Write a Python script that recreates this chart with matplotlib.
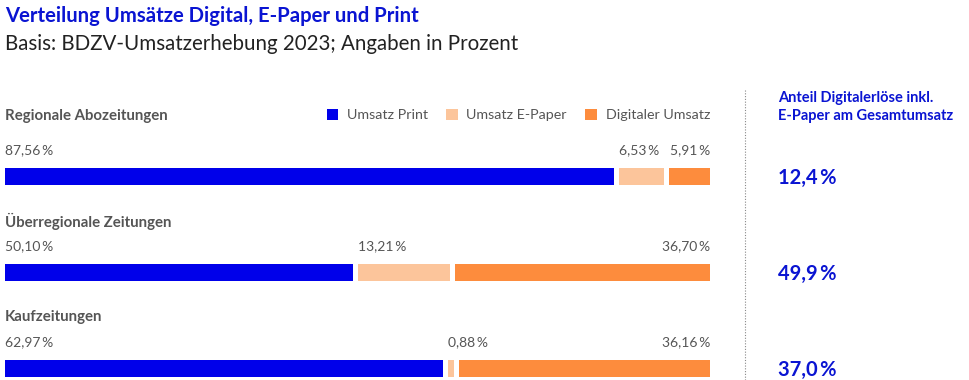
import matplotlib.pyplot as plt
from matplotlib.patches import Patch

# --------------------------------------------------------
# DATA
# --------------------------------------------------------
categories = ["Regionale Abozeitungen", "Überregionale Zeitungen", "Kaufzeitungen"]
print_share = [87.56, 50.10, 62.97]
epaper_share = [6.53, 13.21, 0.88]
digital_share = [5.91, 36.70, 36.16]
digital_total = [12.4, 49.9, 37.0]
series_names = ["Umsatz Print", "Umsatz E-Paper", "Digitaler Umsatz"]

# --------------------------------------------------------
# STYLE
# --------------------------------------------------------
BLUE = "#0000ea"
TITLE_BLUE = "#0a14d2"
PEACH = "#fcc59b"
ORANGE = "#fd8c3d"
GREY = "#555555"
FONT = "Lato"

plt.rcParams["font.family"] = [FONT, "DejaVu Sans"]


def fmt(v, nd=2):
    return f"{v:.{nd}f}".replace(".", ",") + "\u2009%"


W, H = 970, 380
fig = plt.figure(figsize=(W / 100, H / 100), dpi=100)

# axes for the bars: x 0..100 over pixel 5..710, y in pixel rows (top = 0)
ax = fig.add_axes([5 / W, 0, 705 / W, 1])
ax.set_xlim(0, 100)
ax.set_ylim(H, 0)
ax.axis("off")

px = 100 / 705          # one pixel in x data units
gap = 5 * px            # white gap between segments
scale = (100 - 2 * gap) / 100
row_y0, row_step, bar_h = 176, 96, 17

colors = [BLUE, PEACH, ORANGE]
for i, cat in enumerate(categories):
    y = row_y0 + i * row_step
    vals = [print_share[i], epaper_share[i], digital_share[i]]
    lefts = []
    x = 0
    for val, c in zip(vals, colors):
        lefts.append(x)
        ax.barh(y, val * scale, left=x, height=bar_h, color=c, linewidth=0)
        x += val * scale + gap

    cat_off = 60 if i == 0 else 51
    ax.text(0, y - cat_off, cat, fontsize=10.8, fontweight="bold", color=GREY,
            va="center", ha="left")
    ax.text(0, y - 26, fmt(print_share[i]), fontsize=10, color=GREY,
            va="center", ha="left")
    ax.text(lefts[1], y - 26, fmt(epaper_share[i]), fontsize=10,
            color=GREY, va="center", ha="left")
    ax.text(100, y - 26, fmt(digital_share[i]), fontsize=10, color=GREY,
            va="center", ha="right")

    # share of digital revenue, right column
    ax.text((778 - 5) * px, y + 2, fmt(digital_total[i], 1), fontsize=14.5,
            fontweight="bold", color=TITLE_BLUE, va="center", ha="left",
            clip_on=False)

# legend
handles = [Patch(facecolor=c, label=n) for c, n in zip(colors, series_names)]
leg = ax.legend(handles=handles, loc="center right", ncol=3,
                bbox_to_anchor=(1.0, 1 - 115 / H), frameon=False,
                fontsize=10.3, handlelength=0.8, handleheight=0.8,
                handletextpad=0.6, columnspacing=1.3, borderaxespad=0,
                borderpad=0)
for t in leg.get_texts():
    t.set_color(GREY)

# dotted separator
fig.add_artist(plt.Line2D([745 / W, 745 / W], [0, 1 - 90 / H],
                          color="#888888", linestyle=(0, (1, 1.5)),
                          linewidth=0.8))

fig.text(778 / W, 1 - 98 / H, "Anteil Digitalerlöse inkl.", fontsize=10.5,
         fontweight="bold", color=TITLE_BLUE, va="center", ha="left")
fig.text(778 / W, 1 - 116 / H, "E-Paper am Gesamtumsatz", fontsize=10.5,
         fontweight="bold", color=TITLE_BLUE, va="center", ha="left")

# titles
fig.text(5 / W, 1 - 16 / H, "Verteilung Umsätze Digital, E-Paper und Print",
         fontsize=14.6, fontweight="bold", color=TITLE_BLUE, va="center",
         ha="left")
fig.text(5 / W, 1 - 44 / H, "Basis: BDZV-Umsatzerhebung 2023; Angaben in Prozent",
         fontsize=14.8, color="#222222", va="center", ha="left")

fig.savefig("out.png", dpi=100, facecolor="white")
